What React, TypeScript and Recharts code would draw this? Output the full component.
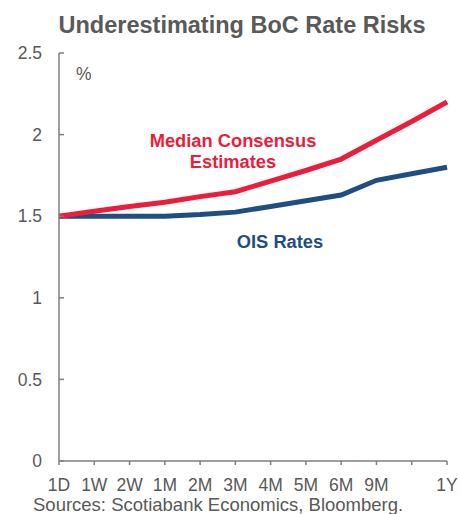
import React from 'react';
import { LineChart, Line, XAxis, YAxis } from 'recharts';

const categories = ['1D', '1W', '2W', '1M', '2M', '3M', '4M', '5M', '6M', '9M', '', '1Y'];
const consensus = [1.5, 1.53, 1.56, 1.585, 1.62, 1.65, 1.715, 1.78, 1.85, 1.965, 2.08, 2.2];
const ois = [1.5, 1.5, 1.5, 1.5, 1.51, 1.525, 1.56, 1.595, 1.63, 1.72, 1.76, 1.8];
const yTicks = [0, 0.5, 1, 1.5, 2, 2.5];

const data = categories.map((c, i) => ({ cat: c, consensus: consensus[i], ois: ois[i] }));

const GRAY = '#595959';
const AXIS = '#7f7f7f';
const RED = '#EC1C3A';
const BLUE = '#1F4E82';
const FONT = '"Liberation Sans", Arial, sans-serif';

export default function App() {
  return (
    <div style={{ position: 'absolute', left: 0, top: 0, width: 459, height: 514, background: '#fff', fontFamily: FONT }}>
      <LineChart
        width={459}
        height={514}
        data={data}
        margin={{ top: 53, right: 12, left: 19, bottom: 23 }}
      >
        <XAxis
          dataKey="cat"
          height={30}
          axisLine={{ stroke: AXIS, strokeWidth: 1.5 }}
          tickLine={{ stroke: AXIS, strokeWidth: 1.5 }}
          tickSize={4}
          tickMargin={14}
          interval={0}
          tick={{ fill: GRAY, fontSize: 17.5, fontFamily: FONT }}
        />
        <YAxis
          width={40}
          domain={[0, 2.5]}
          ticks={yTicks}
          interval={0}
          axisLine={{ stroke: AXIS, strokeWidth: 1.5 }}
          tickLine={{ stroke: AXIS, strokeWidth: 1.5 }}
          tickSize={-5}
          tickMargin={22}
          tick={{ fill: GRAY, fontSize: 17.5, fontFamily: FONT }}
        />
        <Line dataKey="ois" stroke={BLUE} strokeWidth={5} dot={false} isAnimationActive={false} />
        <Line dataKey="consensus" stroke={RED} strokeWidth={5} dot={false} isAnimationActive={false} />
        <text x={242} y={33} textAnchor="middle" fill={GRAY} fontSize={23.5} fontWeight="bold" fontFamily={FONT}>
          Underestimating BoC Rate Risks
        </text>
        <text x={76} y={80} fill={GRAY} fontSize={17.5} fontFamily={FONT}>%</text>
        <text x={233} y={146.5} textAnchor="middle" fill={RED} fontSize={18.3} fontWeight="bold" fontFamily={FONT}>
          Median Consensus
        </text>
        <text x={233} y={168} textAnchor="middle" fill={RED} fontSize={18.3} fontWeight="bold" fontFamily={FONT}>
          Estimates
        </text>
        <text x={280} y={248.3} textAnchor="middle" fill={BLUE} fontSize={18.3} fontWeight="bold" fontFamily={FONT}>
          OIS Rates
        </text>
        <text x={33} y={511} fill={GRAY} fontSize={18.5} fontFamily={FONT}>
          Sources: Scotiabank Economics, Bloomberg.
        </text>
      </LineChart>
    </div>
  );
}
